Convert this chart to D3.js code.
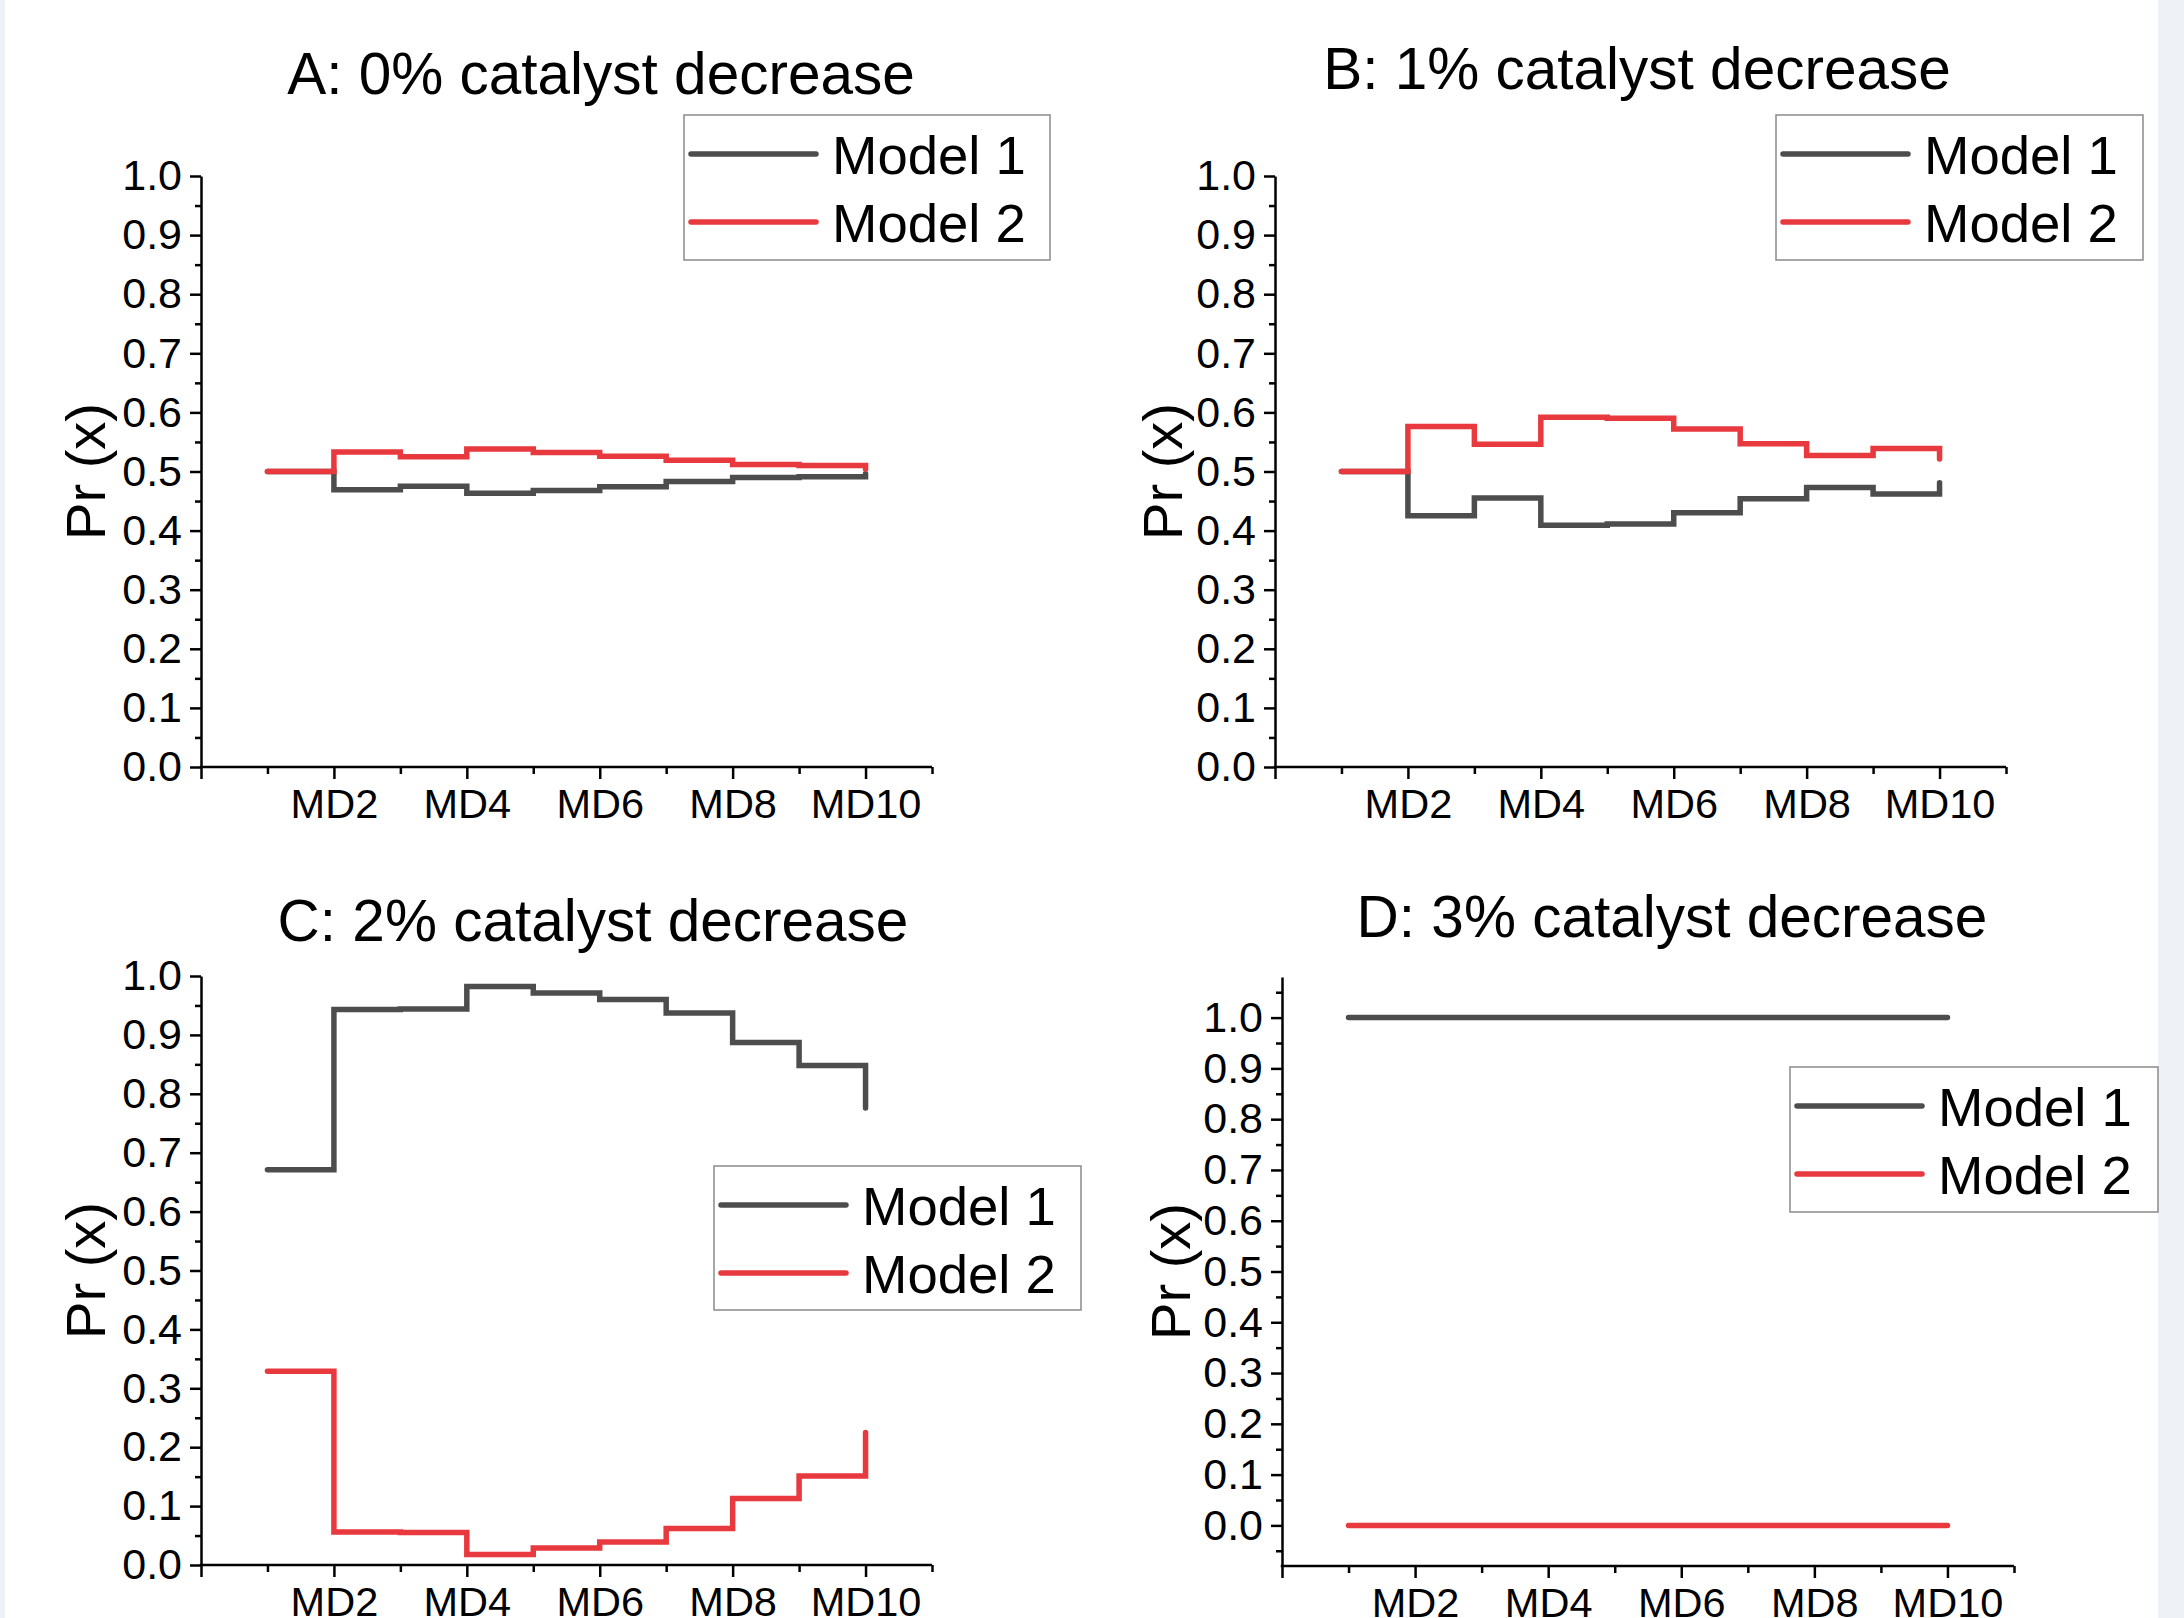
<!DOCTYPE html>
<html>
<head>
<meta charset="utf-8">
<script src="https://cdn.jsdelivr.net/npm/d3@7"></script>
<style>
  html, body { margin: 0; padding: 0; background: #ffffff; }
  svg { display: block; }
  text { font-family: "Liberation Sans", Arial, sans-serif; fill: #000; }
</style>
</head>
<body>
<svg id="chart" width="2184" height="1618"></svg>
<script>
// ---- data ----
const categories = ["MD1","MD2","MD3","MD4","MD5","MD6","MD7","MD8","MD9","MD10"];
const xTickLabels = ["MD2","MD4","MD6","MD8","MD10"];
const seriesNames = ["Model 1", "Model 2"];
const panelTitles = ["A: 0% catalyst decrease", "B: 1% catalyst decrease", "C: 2% catalyst decrease", "D: 3% catalyst decrease"];
const yTickLabels = ["0.0","0.1","0.2","0.3","0.4","0.5","0.6","0.7","0.8","0.9","1.0"];

const panelA_model1 = [0.500, 0.469, 0.475, 0.463, 0.468, 0.474, 0.483, 0.490, 0.491, 0.496];
const panelA_model2 = [0.500, 0.533, 0.525, 0.538, 0.532, 0.526, 0.519, 0.512, 0.510, 0.504];
const panelB_model1 = [0.500, 0.425, 0.455, 0.409, 0.411, 0.430, 0.454, 0.473, 0.462, 0.481];
const panelB_model2 = [0.500, 0.576, 0.546, 0.592, 0.590, 0.572, 0.547, 0.527, 0.539, 0.521];
const panelC_model1 = [0.671, 0.943, 0.944, 0.982, 0.971, 0.960, 0.937, 0.887, 0.848, 0.776];
const panelC_model2 = [0.329, 0.056, 0.055, 0.018, 0.029, 0.039, 0.062, 0.113, 0.151, 0.225];
const panelD_model1 = [1, 1, 1, 1, 1, 1, 1, 1, 1, 1];
const panelD_model2 = [0, 0, 0, 0, 0, 0, 0, 0, 0, 0];

const seriesColors = ["#4d4d4d", "#e8393e"];

// ---- layout ----
const panels = [
  { title: panelTitles[0], series: [panelA_model1, panelA_model2],
    x0: 201, x1: 932, yTop: 176, yBot: 767, yDomain: [0, 1],
    titleX: 601, titleY: 94, ylabX: 86,
    legend: { x: 684, y: 115, w: 366, h: 145 } },
  { title: panelTitles[1], series: [panelB_model1, panelB_model2],
    x0: 1275, x1: 2006, yTop: 176, yBot: 767, yDomain: [0, 1],
    titleX: 1637, titleY: 89, ylabX: 1163,
    legend: { x: 1776, y: 115, w: 367, h: 145 } },
  { title: panelTitles[2], series: [panelC_model1, panelC_model2],
    x0: 201, x1: 932, yTop: 976, yBot: 1565, yDomain: [0, 1],
    titleX: 593, titleY: 941, ylabX: 86,
    legend: { x: 714, y: 1166, w: 367, h: 144 } },
  { title: panelTitles[3], series: [panelD_model1, panelD_model2],
    x0: 1282, x1: 2014, yTop: 977, yBot: 1566, yDomain: [-0.08, 1.08],
    titleX: 1672, titleY: 937, ylabX: 1171,
    legend: { x: 1790, y: 1067, w: 368, h: 145 } }
];

const svg = d3.select("#chart");

// faint side strips
svg.append("rect").attr("x", 0).attr("y", 0).attr("width", 5).attr("height", 1618).attr("fill", "#eef2f6");
svg.append("rect").attr("x", 2158).attr("y", 0).attr("width", 26).attr("height", 1618).attr("fill", "#eef2f6");

panels.forEach(p => {
  const g = svg.append("g");
  const x = d3.scaleLinear().domain([0, 11]).range([p.x0, p.x1]);
  const y = d3.scaleLinear().domain(p.yDomain).range([p.yBot, p.yTop]);

  // title
  g.append("text").attr("x", p.titleX).attr("y", p.titleY)
    .attr("text-anchor", "middle").attr("font-size", 58.5).text(p.title);

  // y axis
  const yMajor = yTickLabels.map(t => +t);
  const yMinor = [];
  for (let v = Math.ceil(p.yDomain[0] / 0.05) * 0.05; v <= p.yDomain[1] + 1e-9; v += 0.05) {
    const r = Math.round(v * 100) / 100;
    if (Math.abs(Math.round(r * 10) - r * 10) > 1e-6) yMinor.push(r);
  }
  const yAx = g.append("g").attr("transform", `translate(${p.x0},0)`)
    .call(d3.axisLeft(y).tickValues(yMajor).tickSize(11).tickSizeOuter(0).tickPadding(8)
      .tickFormat((d, i) => yTickLabels[i]));
  yAx.selectAll("text").attr("font-size", 43).attr("font-family", "Liberation Sans, Arial, sans-serif");
  const yMin = g.append("g").attr("transform", `translate(${p.x0},0)`)
    .call(d3.axisLeft(y).tickValues(yMinor).tickSize(6).tickSizeOuter(0).tickFormat(""));
  yMin.select(".domain").remove();

  // x axis
  const xMajor = [0, 2, 4, 6, 8, 10];
  const xMinor = [1, 3, 5, 7, 9, 11];
  const xAx = g.append("g").attr("transform", `translate(0,${p.yBot})`)
    .call(d3.axisBottom(x).tickValues(xMajor).tickSize(12).tickSizeOuter(0).tickPadding(10)
      .tickFormat(d => d === 0 ? "" : xTickLabels[d / 2 - 1]));
  xAx.selectAll("text").attr("font-size", 41.5).attr("font-family", "Liberation Sans, Arial, sans-serif");
  const xMin = g.append("g").attr("transform", `translate(0,${p.yBot})`)
    .call(d3.axisBottom(x).tickValues(xMinor).tickSize(7).tickSizeOuter(0).tickFormat(""));
  xMin.select(".domain").remove();

  [yAx, yMin, xAx, xMin].forEach(a => {
    a.selectAll("line").attr("stroke", "#000").attr("stroke-width", 2.5);
    a.selectAll(".domain").attr("stroke", "#000").attr("stroke-width", 2.5);
  });
  // extend x domain line to meet y axis
  xAx.select(".domain").attr("d", `M${p.x0 - 1.25},0H${p.x1}`);

  // y label
  g.append("text")
    .attr("transform", `translate(${p.ylabX + 19},${(p.yTop + p.yBot) / 2}) rotate(-90)`)
    .attr("text-anchor", "middle").attr("font-size", 56).text("Pr (x)");

  // lines
  const line = d3.line().x((d, i) => x(i + 1)).y(d => y(d)).curve(d3.curveStepAfter);
  p.series.forEach((s, k) => {
    g.append("path").datum(s).attr("d", line)
      .attr("fill", "none").attr("stroke", seriesColors[k]).attr("stroke-width", 5.5)
      .attr("stroke-linejoin", "miter").attr("stroke-linecap", "round");
  });

  // legend
  const L = p.legend;
  const lg = g.append("g").attr("transform", `translate(${L.x},${L.y})`);
  lg.append("rect").attr("width", L.w).attr("height", L.h)
    .attr("fill", "#fff").attr("stroke", "#8a8a8a").attr("stroke-width", 1.5);
  seriesNames.forEach((name, k) => {
    const cy = 39 + k * 68;
    lg.append("line").attr("x1", 7).attr("x2", 132).attr("y1", cy).attr("y2", cy)
      .attr("stroke", seriesColors[k]).attr("stroke-width", 5.5).attr("stroke-linecap", "round");
    lg.append("text").attr("x", 148).attr("y", cy + 20).attr("font-size", 54.5).text(name);
  });
});
</script>
</body>
</html>
